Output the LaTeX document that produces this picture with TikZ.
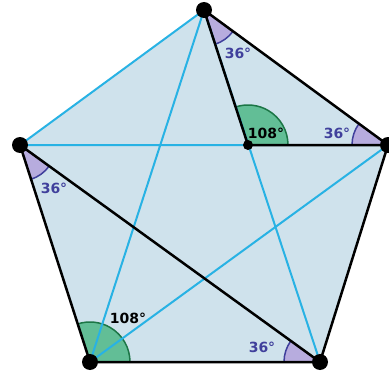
\documentclass[tikz,border=0pt]{standalone}
\usepackage{fontspec}
\setmainfont{DejaVu Sans}
\usepackage{tikz}
\usetikzlibrary{angles}
\definecolor{paleblue}{RGB}{207,226,236}
\definecolor{diagblue}{RGB}{40,178,228}
\definecolor{lilac}{RGB}{183,172,222}
\definecolor{lilacline}{RGB}{64,64,156}
\definecolor{mint}{RGB}{98,190,150}
\definecolor{mintline}{RGB}{28,118,70}

\begin{document}
\begin{tikzpicture}[x=1pt,y=1pt,font=\bfseries\fontsize{14}{16}\selectfont,
  small/.style={angle radius=36pt,draw=lilacline,fill=lilac,line width=1.5pt},
  big/.style={angle radius=40pt,draw=mintline,fill=mint,line width=1.5pt},
  edge/.style={line width=2.5pt,line cap=round},
  diag/.style={diagblue,line width=2pt}]
\useasboundingbox (0,0) rectangle (389,376);
% corners of the pentagon and the point on the long diagonal
\coordinate (T) at (204,366);
\coordinate (R) at (388,231);
\coordinate (BR) at (320,14);
\coordinate (BL) at (90,14);
\coordinate (L) at (20,231);
\coordinate (P) at (248,231);
\fill[paleblue] (T) -- (R) -- (BR) -- (BL) -- (L) -- cycle;
% angle wedges
\pic[small] {angle=P--T--R};
\pic[small] {angle=T--R--P};
\pic[big] {angle=R--P--T};
\pic[small] {angle=BL--L--BR};
\pic[big] {angle=BR--BL--L};
\pic[small] {angle=L--BR--BL};
\draw[diag] (T) -- (L) -- (P) (T) -- (BL) (T) -- (BR) (BL) -- (R);
\draw[edge] (T) -- (R) -- (BR) -- (BL) -- (L) -- (BR) (T) -- (P) -- (R);
\foreach \v in {T,R,BR,BL,L} \fill (\v) circle (8);
\fill (P) circle (5);
% labels
\node[lilacline] (aT) at (238,323) {36°};
\node[lilacline] (aR) at (337,243) {36°};
\node (aP) at (266,243) {108°};
\node[lilacline] (aL) at (54,188) {36°};
\node (aBL) at (128,58) {108°};
\node[lilacline] (aBR) at (262,29) {36°};
\end{tikzpicture}
\end{document}
